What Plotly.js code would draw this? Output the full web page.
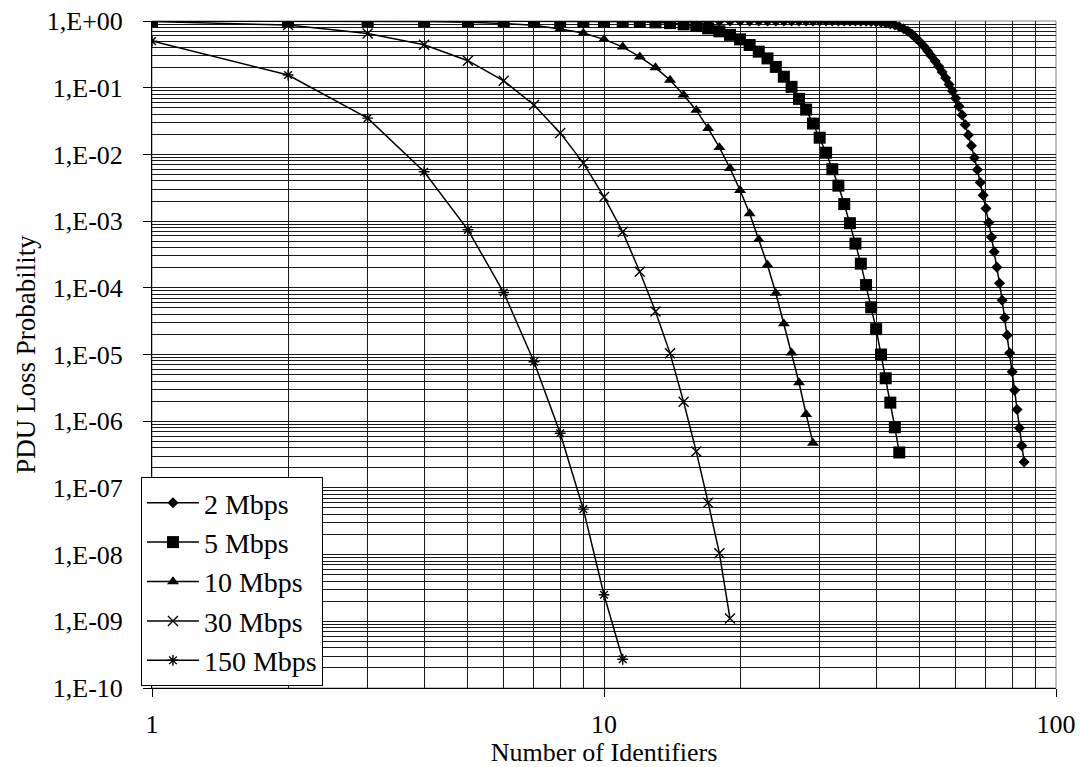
<!DOCTYPE html>
<html><head><meta charset="utf-8">
<script src="https://cdn.plot.ly/plotly-3.0.1.min.js"></script>
<style>html,body{margin:0;padding:0;background:#fff;} #chart{width:1080px;height:767px;}</style>
</head><body><div id="chart"></div>
<script>
// ---- Data ----
const seriesNames = ['2 Mbps', '5 Mbps', '10 Mbps', '30 Mbps', '150 Mbps'];

// PDU loss probability for Number of Identifiers = 1, 2, 3, ...
const loss2Mbps = [
  1, 1, 1, 1, 1, 1, 1, 1, 1, 1,
  1, 1, 1, 1, 1, 1, 1, 1, 1, 1,
  1, 1, 1, 1, 1, 1, 1, 1, 1, 1,
  1, 1, 1, 1, 0.999, 0.998, 0.996, 0.993, 0.987, 0.978,
  0.96, 0.933, 0.906, 0.871, 0.822, 0.767, 0.700, 0.631, 0.556, 0.484,
  0.417, 0.355, 0.299, 0.251, 0.209, 0.172, 0.140, 0.112, 0.0891, 0.0692,
  0.0525, 0.0389, 0.0279, 0.0195, 0.0135, 8.9e-3, 5.9e-3, 3.8e-3, 2.45e-3, 1.55e-3,
  9.5e-4, 5.75e-4, 3.47e-4, 2.04e-4, 1.17e-4, 6.5e-5, 3.55e-5, 1.95e-5, 1.05e-5, 5.5e-6,
  2.9e-6, 1.5e-6, 7.9e-7, 4.3e-7, 2.45e-7
];
const loss5Mbps = [
  1, 1, 1, 1, 1, 0.999, 0.998, 0.997, 0.995, 0.99,
  0.984, 0.973, 0.955, 0.93, 0.89, 0.84, 0.776, 0.70, 0.62, 0.53,
  0.437, 0.347, 0.275, 0.205, 0.146, 0.103, 0.068, 0.047, 0.029, 0.0178,
  0.0106, 6.0e-3, 3.4e-3, 1.8e-3, 9.3e-4, 4.6e-4, 2.3e-4, 1.1e-4, 5.1e-5, 2.4e-5,
  1.0e-5, 4.4e-6, 1.9e-6, 8.1e-7, 3.4e-7
];
const loss10Mbps = [
  1.0, 0.999, 0.995, 0.98, 0.96, 0.92, 0.86, 0.76, 0.66, 0.53,
  0.41, 0.29, 0.20, 0.13, 0.078, 0.046, 0.0246, 0.0127, 6.2e-3, 2.9e-3,
  1.3e-3, 5.3e-4, 2.2e-4, 8.3e-5, 2.9e-5, 1.06e-5, 3.8e-6, 1.27e-6, 4.7e-7
];
const loss30Mbps = [
  0.98, 0.87, 0.65, 0.44, 0.254, 0.127, 0.055, 0.021, 7.4e-3, 2.3e-3,
  6.9e-4, 1.74e-4, 4.4e-5, 1.04e-5, 1.96e-6, 3.5e-7, 6.0e-8, 1.05e-8, 1.1e-9
];
const loss150Mbps = [
  0.5, 0.155, 0.035, 5.5e-3, 7.4e-4, 8.5e-5, 7.8e-6, 6.6e-7, 4.8e-8, 2.5e-9,
  2.7e-10
];

const xTickVals = [1, 10, 100];
const xTickText = ['1', '10', '100'];
const yTickVals = [1, 1e-1, 1e-2, 1e-3, 1e-4, 1e-5, 1e-6, 1e-7, 1e-8, 1e-9, 1e-10];
const yTickText = ['1,E+00', '1,E-01', '1,E-02', '1,E-03', '1,E-04', '1,E-05',
                   '1,E-06', '1,E-07', '1,E-08', '1,E-09', '1,E-10'];

// ---- Build ----
const identifiers = arr => arr.map((_, i) => i + 1);
const xMinor = [];
[1, 10].forEach(d => { for (let k = 2; k <= 9; k++) xMinor.push(k * d); });
const yMinor = [];
for (let e = -10; e < 0; e++) { for (let k = 2; k <= 9; k++) yMinor.push(k * Math.pow(10, e)); }

const FONT = 'Liberation Serif, "Times New Roman", serif';
const lineStyle = {color: '#000', width: 1.5};

const specs = [
  {y: loss2Mbps,   marker: {symbol: 'diamond', size: 8.5, color: '#000', line: {width: 0}}},
  {y: loss5Mbps,   marker: {symbol: 'square', size: 12, color: '#000', line: {width: 0}}},
  {y: loss10Mbps,  marker: {symbol: 'triangle-up', size: 10.5, color: '#000', line: {width: 0}}},
  {y: loss30Mbps,  marker: {symbol: 'x-thin-open', size: 10, color: '#000', line: {width: 1.4, color: '#000'}}},
  {y: loss150Mbps, marker: {symbol: 'asterisk-open', size: 9, color: '#000', line: {width: 1.4, color: '#000'}}}
];

const traces = specs.map((s, i) => ({
  type: 'scatter', mode: 'lines+markers', name: seriesNames[i],
  x: identifiers(s.y), y: s.y, line: lineStyle, marker: s.marker
}));

const gridCol = '#1a1a1a';
const layout = {
  width: 1080, height: 767,
  margin: {l: 152, r: 24, t: 21, b: 79, pad: 0},
  paper_bgcolor: '#fff', plot_bgcolor: '#fff',
  font: {family: FONT, color: '#000', size: 26},
  showlegend: true,
  legend: {
    x: -0.0122, xanchor: 'left', y: 0.003, yanchor: 'bottom',
    bgcolor: '#fff', bordercolor: '#000', borderwidth: 1,
    font: {family: FONT, size: 28, color: '#000'},
    itemwidth: 52, tracegroupgap: 0
  },
  xaxis: {
    type: 'log', range: [0, 2], tickmode: 'array', tickvals: xTickVals, ticktext: xTickText,
    ticks: 'outside', ticklen: 8, tickcolor: '#000', tickwidth: 1,
    showgrid: true, gridcolor: gridCol, gridwidth: 1,
    showline: true, linecolor: '#000', linewidth: 1, zeroline: false,
    minor: {tickmode: 'array', tickvals: xMinor, showgrid: true, gridcolor: gridCol, gridwidth: 1, ticks: ''},
    tickfont: {family: FONT, size: 26, color: '#000'},
    ticklabelstandoff: 5,
    title: {text: 'Number of Identifiers', font: {family: FONT, size: 26, color: '#000'}, standoff: 10}
  },
  yaxis: {
    type: 'log', range: [-10, 0], tickmode: 'array', tickvals: yTickVals, ticktext: yTickText,
    ticks: 'outside', ticklen: 8, tickcolor: '#000', tickwidth: 1,
    showgrid: true, gridcolor: gridCol, gridwidth: 1,
    showline: true, linecolor: '#000', linewidth: 1, zeroline: false,
    minor: {tickmode: 'array', tickvals: yMinor, showgrid: true, gridcolor: gridCol, gridwidth: 1, ticks: ''},
    tickfont: {family: FONT, size: 26, color: '#000'},
    ticklabelstandoff: 15,
    title: {text: 'PDU Loss Probability', font: {family: FONT, size: 27, color: '#000'}, standoff: 3}
  },
  shapes: [{
    type: 'rect', xref: 'paper', yref: 'paper', x0: 0, x1: 1, y0: 0, y1: 1,
    line: {color: '#808080', width: 1}, fillcolor: 'rgba(0,0,0,0)', layer: 'between'
  }]
};

Plotly.newPlot('chart', traces, layout, {displayModeBar: false, staticPlot: true});
</script>
</body></html>
